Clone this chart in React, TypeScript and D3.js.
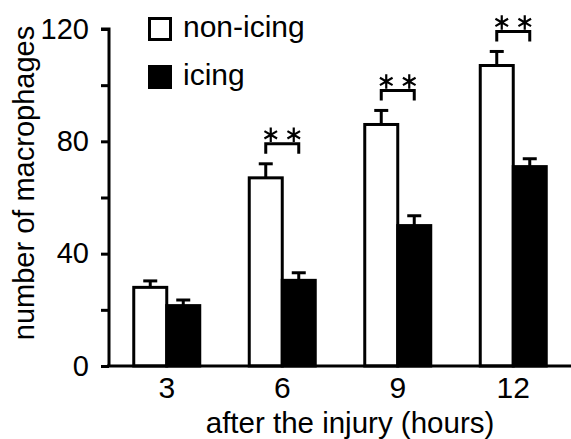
import React, { useEffect, useRef } from 'react';
import * as d3 from 'd3';

const hours = ['3', '6', '9', '12'];
const seriesNames = ['non-icing', 'icing'];
const nonIcing = [28, 67, 86, 107];
const nonIcingErr = [2.3, 5, 5, 5];
const icing = [21.5, 30.5, 50, 71];
const icingErr = [2, 2.7, 3.5, 2.8];
const significant = [false, true, true, true];
const yTicks = [0, 20, 40, 60, 80, 100, 120];
const yLabels = [0, 40, 80, 120];

const W = 571;
const H = 439;
const FONT = '"Liberation Sans", Arial, Helvetica, sans-serif';

function App() {
  const ref = useRef<SVGSVGElement>(null);

  useEffect(() => {
    const svg = d3.select(ref.current);
    svg.selectAll('*').remove();

    const x0 = d3.scaleBand().domain(hours).range([109, 571]);
    const x1 = d3.scaleBand().domain(seriesNames).range([0, 66]);
    const y = d3.scaleLinear().domain([0, 120]).range([366, 29]);
    const g = svg.append('g');

    const rows = hours.map((h, i) => ({
      h,
      vals: [
        { s: 'non-icing', v: nonIcing[i], e: nonIcingErr[i] },
        { s: 'icing', v: icing[i], e: icingErr[i] },
      ],
      sig: significant[i],
    }));

    const groupX = (h: string) => x0(h)! + x0.bandwidth() / 2 - 33;

    // error bars (drawn before bars so the stem hides behind bar top)
    rows.forEach((r) => {
      r.vals.forEach((d) => {
        const cx = groupX(r.h) + x1(d.s)! + x1.bandwidth() / 2;
        g.append('line')
          .attr('x1', cx).attr('x2', cx)
          .attr('y1', y(d.v)).attr('y2', y(d.v + d.e))
          .attr('stroke', '#000').attr('stroke-width', 3);
        g.append('line')
          .attr('x1', cx - 7).attr('x2', cx + 7)
          .attr('y1', y(d.v + d.e)).attr('y2', y(d.v + d.e))
          .attr('stroke', '#000').attr('stroke-width', 3);
      });
    });

    // bars
    rows.forEach((r) => {
      g.selectAll(null)
        .data(r.vals)
        .enter()
        .append('rect')
        .attr('x', (d) => groupX(r.h) + x1(d.s)!)
        .attr('y', (d) => y(d.v))
        .attr('width', x1.bandwidth())
        .attr('height', (d) => y(0) - y(d.v))
        .attr('fill', (d) => (d.s === 'icing' ? '#000' : '#fff'))
        .attr('stroke', '#000')
        .attr('stroke-width', 3);
    });

    // significance brackets
    const star = d3.symbol(d3.symbolAsterisk, 150);
    rows.filter((r) => r.sig).forEach((r) => {
      const xa = groupX(r.h) + x1('non-icing')! + x1.bandwidth() / 2;
      const xb = groupX(r.h) + x1('icing')! + x1.bandwidth() / 2;
      const top = y(r.vals[0].v + r.vals[0].e) - 20;
      g.append('path')
        .attr('d', `M${xa},${top + 10}V${top}H${xb}V${top + 10}`)
        .attr('fill', 'none')
        .attr('stroke', '#000')
        .attr('stroke-width', 3);
      [xa + 5, xb - 5].forEach((sx) => {
        g.append('path')
          .attr('d', star()!)
          .attr('transform', `translate(${sx},${top - 9})`)
          .attr('fill', 'none')
          .attr('stroke', '#000')
          .attr('stroke-width', 2.2);
      });
    });

    // y axis
    const yAxis = g.append('g')
      .attr('transform', 'translate(109,0)')
      .call(d3.axisLeft(y).tickValues(yTicks).tickSize(8).tickFormat((d) =>
        yLabels.includes(d as number) ? String(d) : ''))
      .call((a) => a.select('.domain').attr('d', `M-8,${y(120)}H0V${y(0)}`))
      .attr('font-family', FONT)
      .attr('font-size', 29);
    yAxis.selectAll('path, line').attr('stroke', '#000').attr('stroke-width', 3);
    yAxis.selectAll('text').attr('fill', '#000').attr('x', -20);

    // x axis
    const xAxis = g.append('g')
      .attr('transform', `translate(0,${y(0)})`)
      .call(d3.axisBottom(x0).tickSize(0).tickPadding(11))
      .call((a) => a.select('.domain').attr('d', `M107,0H${W}`))
      .attr('font-family', FONT)
      .attr('font-size', 30);
    xAxis.selectAll('path').attr('stroke', '#000').attr('stroke-width', 3);
    xAxis.selectAll('text').attr('fill', '#000');

    // axis titles
    g.append('text')
      .attr('x', 350).attr('y', 433)
      .attr('text-anchor', 'middle')
      .attr('font-family', FONT).attr('font-size', 29.5)
      .text('after the injury (hours)');
    g.append('text')
      .attr('transform', 'translate(34,183) rotate(-90)')
      .attr('text-anchor', 'middle')
      .attr('font-family', FONT).attr('font-size', 29)
      .text('number of macrophages');

    // legend
    const legend = g.append('g').attr('transform', 'translate(148,17)');
    seriesNames.forEach((s, i) => {
      legend.append('rect')
        .attr('x', 1.5).attr('y', i * 48 + 1.5)
        .attr('width', 21).attr('height', 21)
        .attr('fill', s === 'icing' ? '#000' : '#fff')
        .attr('stroke', '#000').attr('stroke-width', 3);
      legend.append('text')
        .attr('x', 35).attr('y', i * 48 + 20)
        .attr('font-family', FONT).attr('font-size', 30)
        .text(s);
    });
  }, []);

  return (
    <svg ref={ref} width={W} height={H}
      style={{ position: 'absolute', left: 0, top: 0, background: '#fff' }} />
  );
}

export default App;
